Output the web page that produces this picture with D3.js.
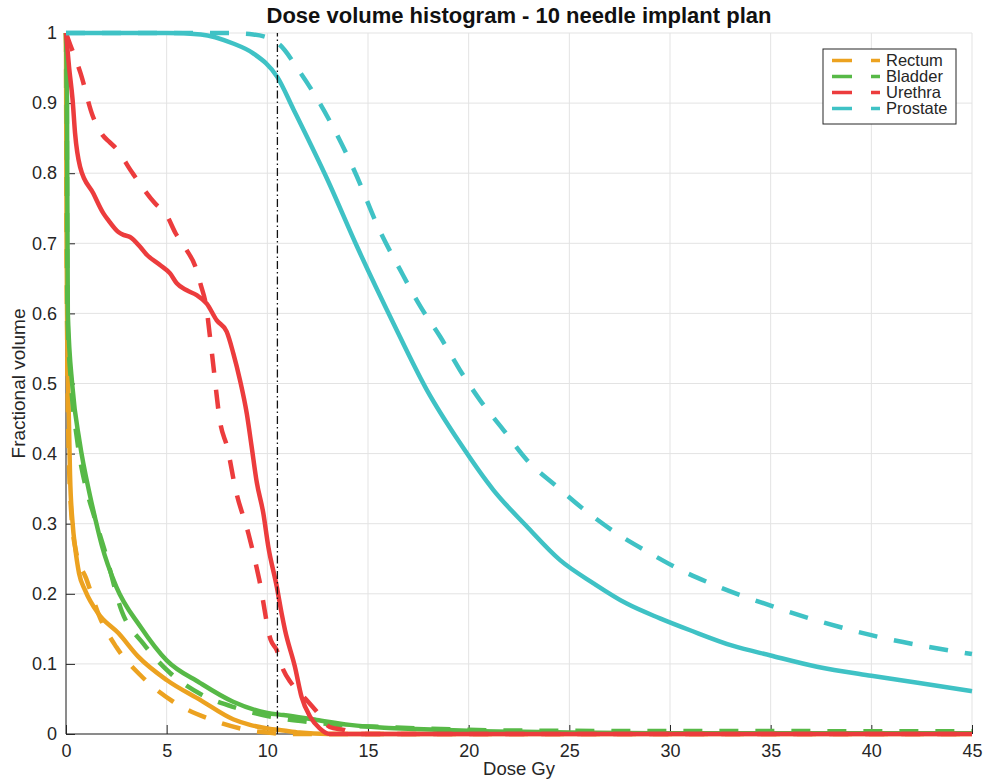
<!DOCTYPE html>
<meta charset="utf-8">
<style>
body { margin: 0; background: #fff; }
text { font-family: "Liberation Sans", Helvetica, Arial, sans-serif; fill: #262626; }
.grid line { stroke: #e3e3e3; stroke-width: 1px; }
.axis path, .axis line { stroke: #262626; stroke-width: 1px; }
.curve { fill: none; stroke-width: 4.5px; stroke-linejoin: round; }
</style>
<body>
<script src="https://d3js.org/d3.v7.min.js"></script>
<script>

// tick values
var xTicks = [0, 5, 10, 15, 20, 25, 30, 35, 40, 45];
var yTicks = [0, 0.1, 0.2, 0.3, 0.4, 0.5, 0.6, 0.7, 0.8, 0.9, 1];

// organ names (legend order)
var organs = ["Rectum", "Bladder", "Urethra", "Prostate"];

// dose limit marker
var refDose = 10.5;

// [dose Gy, fractional volume]
var rectumSolid = [[0,1],[0.03,0.7],[0.06,0.58],[0.15,0.44],[0.2,0.37],[0.33,0.30],[0.45,0.267],[0.65,0.229],
  [0.95,0.205],[1.6,0.172],[2.6,0.144],[3.6,0.11],[5.0,0.077],[6.7,0.048],[8.3,0.021],[9.14,0.013],
  [10.0,0.008],[10.8,0.005],[11.6,0.002],[13,0],[45,0]];
var rectumDashed = [[0,1],[0.03,0.7],[0.06,0.55],[0.12,0.42],[0.25,0.32],[0.5,0.26],[1.0,0.222],[1.7,0.165],
  [2.5,0.124],[3.76,0.082],[5.33,0.046],[7.07,0.022],[8.8,0.007],[10,0.002],[11,0],[45,0]];
var bladderSolid = [[0,1],[0.05,0.9],[0.09,0.6],[0.32,0.495],[0.67,0.418],[1.2,0.339],[1.47,0.305],[1.77,0.27],
  [2.5,0.21],[3.7,0.153],[5.0,0.105],[6.65,0.073],[8.3,0.046],[10.0,0.03],[10.8,0.027],[12.45,0.02],
  [14.1,0.013],[15.8,0.009],[17.4,0.007],[20.7,0.004],[25,0.002],[30,0.001],[45,0.001]];
var bladderDashed = [[0,1],[0.04,0.9],[0.07,0.6],[0.25,0.5],[0.55,0.42],[1.0,0.35],[1.3,0.32],[1.94,0.26],
  [2.77,0.175],[3.84,0.129],[5.17,0.087],[6.74,0.056],[8.48,0.037],[10.3,0.024],[12.5,0.016],[14,0.012],
  [15.8,0.01],[17.5,0.008],[20,0.006],[25,0.0045],[45,0.004]];
var urethraSolid = [[0,1],[0.15,0.952],[0.33,0.904],[0.45,0.857],[0.7,0.809],[1.36,0.771],[1.85,0.743],
  [2.1,0.733],[2.6,0.716],[2.85,0.712],[3.18,0.709],[3.68,0.695],[4.0,0.684],[4.67,0.669],[5.17,0.657],
  [5.5,0.643],[6.0,0.633],[6.49,0.626],[6.99,0.614],[7.49,0.59],[7.98,0.574],[8.31,0.543],[8.64,0.505],
  [8.98,0.457],[9.22,0.41],[9.47,0.36],[9.8,0.315],[10.05,0.267],[10.47,0.21],[10.71,0.172],[10.88,0.148],
  [11.37,0.096],[11.7,0.053],[12.12,0.025],[12.6,0.008],[13.1,0],[45,0]];
var urethraDashed = [[0,1],[0.15,0.988],[0.73,0.942],[1.31,0.883],[1.8,0.855],[2.14,0.845],[2.5,0.835],
  [3.26,0.802],[4.42,0.757],[5.0,0.74],[5.45,0.714],[6.0,0.69],[6.41,0.668],[6.7,0.64],[6.94,0.614],
  [7.24,0.545],[7.68,0.441],[8.0,0.41],[8.43,0.348],[9.06,0.286],[9.6,0.22],[10.17,0.134],[10.46,0.12],
  [10.8,0.091],[11.2,0.072],[11.96,0.048],[12.45,0.032],[13.1,0.01],[13.9,0.005],[14.3,0],[45,0]];
var prostateSolid = [[0,1],[5,1],[6.7,0.998],[8.3,0.985],[9.3,0.971],[10.5,0.937],[11.3,0.891],
  [13.0,0.79],[14.46,0.695],[16.26,0.586],[17.92,0.491],[19.57,0.415],[21.23,0.348],[22.89,0.296],
  [24.54,0.248],[26.2,0.215],[27.85,0.186],[29.5,0.165],[31.0,0.148],[33.1,0.126],[35,0.112],[37.3,0.096],
  [40,0.083],[42.3,0.073],[45,0.061]];
var prostateDashed = [[0,1],[8,1],[9.3,0.998],[10.5,0.986],[11.6,0.945],[12.6,0.90],[14.3,0.805],[15.6,0.717],
  [16.6,0.662],[17.6,0.61],[18.58,0.567],[19.57,0.519],[20.57,0.476],[21.72,0.434],[22.89,0.391],
  [24.38,0.353],[25.87,0.317],[27.36,0.286],[29.0,0.258],[30.67,0.232],[32,0.215],[35,0.183],[40,0.141],
  [45,0.114]];

var colors = ["#eca220", "#57b947", "#ec3c3d", "#3fc2c5"];

var series = [
  {data: rectumSolid, organ: 0, dashed: false},
  {data: rectumDashed, organ: 0, dashed: true},
  {data: bladderSolid, organ: 1, dashed: false},
  {data: bladderDashed, organ: 1, dashed: true},
  {data: urethraSolid, organ: 2, dashed: false},
  {data: urethraDashed, organ: 2, dashed: true},
  {data: prostateSolid, organ: 3, dashed: false},
  {data: prostateDashed, organ: 3, dashed: true}
];

var margin = {top: 33, right: 12, bottom: 47, left: 66},
    width = 984 - margin.left - margin.right,
    height = 781 - margin.top - margin.bottom;

var x = d3.scaleLinear().domain([0, 45]).range([0, width]);
var y = d3.scaleLinear().domain([0, 1]).range([height, 0]);

var svg = d3.select("body").append("svg")
    .attr("width", 984)
    .attr("height", 781);

var g = svg.append("g")
    .attr("transform", "translate(" + margin.left + "," + margin.top + ")");

// grid
var grid = g.append("g").attr("class", "grid");
grid.selectAll(".gx").data(xTicks).enter().append("line")
    .attr("x1", function(d) { return x(d); }).attr("x2", function(d) { return x(d); })
    .attr("y1", 0).attr("y2", height);
grid.selectAll(".gy").data(yTicks).enter().append("line")
    .attr("x1", 0).attr("x2", width)
    .attr("y1", function(d) { return y(d); }).attr("y2", function(d) { return y(d); });

// axes, ticks pointing inwards
var xAxis = g.append("g")
    .attr("class", "axis")
    .attr("transform", "translate(0," + height + ")")
    .call(d3.axisBottom(x).tickValues(xTicks).tickSizeInner(-9).tickSizeOuter(0).tickPadding(10));
var yAxis = g.append("g")
    .attr("class", "axis")
    .call(d3.axisLeft(y).tickValues(yTicks).tickSizeInner(-9).tickSizeOuter(0).tickPadding(9)
      .tickFormat(function(d) { return d3.format("")(+d.toFixed(1)); }));
g.selectAll(".axis text").attr("font-size", "18px").attr("font-family", null);
xAxis.select(".domain").attr("d", "M0,0H" + width);
yAxis.select(".domain").attr("d", "M0," + height + "V0");

// clip
g.append("clipPath").attr("id", "clip")
  .append("rect").attr("x", -3).attr("y", -3).attr("width", width + 6).attr("height", height + 6);

var line = d3.line()
    .curve(d3.curveMonotoneX)
    .x(function(d) { return x(d[0]); })
    .y(function(d) { return y(d[1]); });

var plot = g.append("g").attr("clip-path", "url(#clip)");

plot.selectAll(".curve").data(series).enter().append("path")
    .attr("class", "curve")
    .attr("d", function(d) { return line(d.data); })
    .attr("stroke", function(d) { return colors[d.organ]; })
    .attr("stroke-dasharray", function(d) { return d.dashed ? "19,17" : null; });

// dose limit line
g.append("line")
    .attr("x1", x(refDose)).attr("x2", x(refDose))
    .attr("y1", y(0)).attr("y2", y(1))
    .attr("stroke", "#111")
    .attr("stroke-width", 1.3)
    .attr("stroke-dasharray", "8,3,1.5,3");

// title and labels
svg.append("text")
    .attr("x", margin.left + width / 2).attr("y", 23)
    .attr("text-anchor", "middle")
    .attr("font-size", "22px").attr("font-weight", "bold")
    .style("fill", "#111")
    .text("Dose volume histogram - 10 needle implant plan");

svg.append("text")
    .attr("x", margin.left + width / 2).attr("y", 775)
    .attr("text-anchor", "middle")
    .attr("font-size", "18.5px")
    .text("Dose Gy");

svg.append("text")
    .attr("transform", "translate(25," + (margin.top + height / 2) + ") rotate(-90)")
    .attr("text-anchor", "middle")
    .attr("font-size", "19px")
    .text("Fractional volume");

// legend
var legend = svg.append("g").attr("transform", "translate(823,49)");
legend.append("rect")
    .attr("width", 133).attr("height", 75)
    .attr("fill", "#fff").attr("stroke", "#262626").attr("stroke-width", 1);

var item = legend.selectAll(".item").data(organs).enter().append("g")
    .attr("transform", function(d, i) { return "translate(0," + (17 + i * 16) + ")"; });
item.append("line")
    .attr("x1", 9).attr("x2", 57).attr("y1", -5.5).attr("y2", -5.5)
    .attr("stroke", function(d, i) { return colors[i]; })
    .attr("stroke-width", 3.5)
    .attr("stroke-dasharray", "20,19");
item.append("text")
    .attr("x", 63)
    .attr("font-size", "16.5px")
    .text(function(d) { return d; });

</script>
</body>
